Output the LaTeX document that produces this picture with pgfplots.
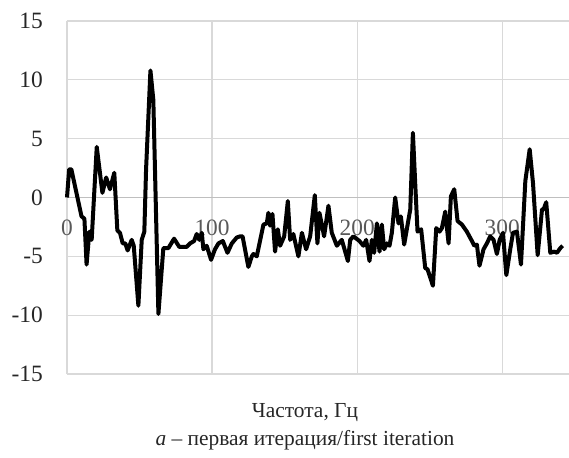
\documentclass[border=0pt]{standalone}
\usepackage{fontspec}
\setmainfont{Liberation Serif}
\usepackage{pgfplots}
\pgfplotsset{compat=1.18}
\definecolor{gridgray}{HTML}{D9D9D9}
\definecolor{axisgray}{HTML}{BFBFBF}
\definecolor{labelgray}{HTML}{595959}

\begin{document}
\begin{tikzpicture}
\path[use as bounding box] (-67bp,-84bp) rectangle (502bp,374bp);
\begin{axis}[
  at={(0,0)}, anchor=south west,
  scale only axis, width=502bp, height=353bp,
  xmin=0, xmax=346, ymin=-15, ymax=15,
  axis x line=middle, axis y line=left,
  x axis line style={draw=axisgray, line width=1.2bp, -},
  y axis line style={draw=gridgray, line width=1.2bp, -},
  xtick={0,100,200,300}, ytick={-15,-10,...,15},
  hide obscured x ticks=false, hide obscured y ticks=false,
  major tick length=0pt,
  grid=major, grid style={gridgray, line width=1.2bp},
  tick label style={font=\fontsize{23.5}{27}\selectfont},
  /pgf/number format/assume math mode=true,
  xticklabel style={text=labelgray, anchor=north, inner sep=0pt, yshift=-22bp},
  yticklabel style={text=black!85, anchor=east, inner sep=0pt, xshift=-24bp},
  clip=false,
]
\addplot[black, line width=4bp, line join=round] coordinates {
(0,0) (1.5,2.4) (3,2.4) (10,-1.6) (12,-1.8) (13.5,-5.7) (15.4,-2.9) (17,-3.6)
(20.5,4.3) (24.4,0.4) (27,1.7) (29.6,0.7) (32.6,2.1) (34.7,-2.8) (36.5,-3)
(38.4,-3.9) (40.2,-3.9) (41.8,-4.5) (44.6,-3.6) (46,-4.1) (49.2,-9.2)
(51.5,-3.6) (53.3,-2.9) (54.5,2.4) (57.5,10.8) (59.5,8.3) (63,-9.9)
(66.4,-4.3) (69.9,-4.3) (73.8,-3.5) (77.4,-4.2) (82.5,-4.2) (84.8,-3.9)
(87.6,-3.7) (89.4,-3.1) (91.2,-3.6) (92.9,-3) (94,-4.4) (96.3,-4.1)
(99.3,-5.3) (102,-4.4) (104.4,-3.9) (107.4,-3.7) (110.6,-4.7) (113.6,-3.9)
(117,-3.4) (119.3,-3.3) (121,-3.3) (125,-5.9) (127.4,-5) (128.5,-4.8)
(130.8,-5) (135.4,-2.3) (137.7,-2.2) (138.8,-1.3) (140,-2.4) (141.6,-1.4)
(143.4,-4.6) (145.3,-2.7) (146.9,-4.1) (149.7,-3.3) (152.2,-0.3) (153.8,-3.6)
(156,-3.1) (159.5,-5) (161.9,-3) (164.8,-4.4) (167.6,-3.3) (170.8,0.2)
(172.6,-3.9) (174,-1.3) (177.2,-3.3) (180.2,-0.7) (182.5,-3) (186,-4.1)
(189.4,-3.6) (193.6,-5.4) (195.2,-3.6) (197.4,-3.3) (201.6,-3.7) (204.3,-4.1)
(206.2,-3.6) (208.5,-5.4) (210.1,-3.6) (211.7,-4.7) (213.6,-2.2) (215.4,-4.6)
(217,-2.3) (218.6,-4.4) (220.5,-3.9) (222.3,-4.1) (223.9,-3) (226.2,0)
(228.5,-2.2) (230.1,-1.6) (232.4,-4) (236.6,-1) (238.4,5.5) (240,1.2)
(241.6,-2.9) (244.1,-2.7) (246.9,-6) (248.5,-6.1) (252.2,-7.5) (254.5,-2.6)
(256.8,-2.9) (258.4,-2.6) (260.7,-1.2) (263,-3.9) (264.6,0.1) (266.9,0.7)
(269.2,-2) (272.2,-2.3) (275.6,-2.9) (279.1,-3.7) (280.7,-4.1) (282.5,-4)
(284.3,-5.8) (287.1,-4.4) (289.4,-3.9) (291.7,-3.3) (294,-3.6) (296.3,-4.8)
(298.2,-3.6) (300.5,-3) (302.8,-6.6) (305.5,-4.4) (307.4,-3) (310.1,-2.9)
(312.9,-5.7) (315.9,1.4) (318.9,4.1) (321.2,1.2) (324.4,-4.9) (327.4,-1)
(328.5,-1) (330.3,-0.4) (333.1,-4.7) (335.9,-4.6) (337.7,-4.7) (340,-4.3)
(341.6,-4.1)
};
\end{axis}
\node[anchor=base, text=black!85, font=\fontsize{21.5}{25}\selectfont] at (238bp,-43bp) {Частота, Гц};
\node[anchor=base, text=black!85, font=\fontsize{21.5}{25}\selectfont] at (238bp,-71bp) {\textit{а} – первая итерация/first iteration};
\end{tikzpicture}
\end{document}
